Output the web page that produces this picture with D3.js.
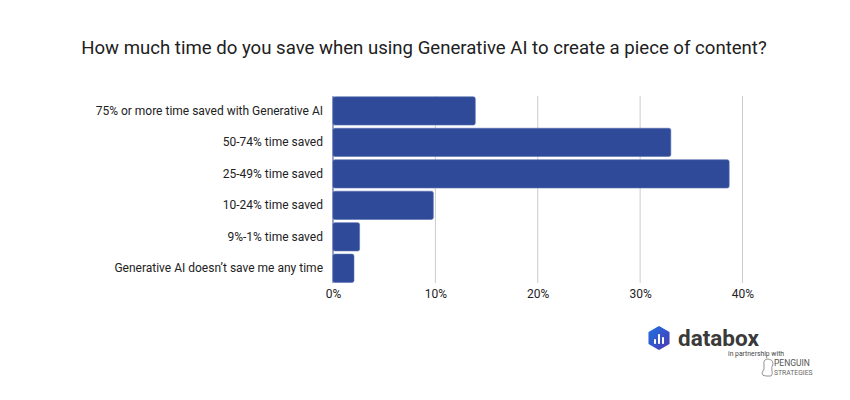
<!DOCTYPE html>
<html>
<head>
<meta charset="utf-8">
<script src="https://cdn.jsdelivr.net/npm/d3@7"></script>
<style>
  html, body { margin: 0; padding: 0; background: #fff; }
  svg { display: block; font-family: Roboto, "Noto Sans", sans-serif; }
</style>
</head>
<body>
<svg id="chart" width="850" height="400"></svg>
<script>
const categories = [
  "75% or more time saved with Generative AI",
  "50-74% time saved",
  "25-49% time saved",
  "10-24% time saved",
  "9%-1% time saved",
  "Generative AI doesn\u2019t save me any time"
];
const values = [13.9, 33.0, 38.7, 9.8, 2.6, 2.05];
const xTicks = [0, 10, 20, 30, 40];
const title = "How much time do you save when using Generative AI to create a piece of content?";

const svg = d3.select("#chart");

const x = d3.scaleLinear().domain([0, 40]).range([333, 742.5]);
const y = d3.scaleBand().domain(categories).range([95.2, 284]).paddingInner(0.1).paddingOuter(0.05);

// title
svg.append("text")
  .attr("x", 424).attr("y", 53.5)
  .attr("text-anchor", "middle")
  .attr("font-size", 18.6)
  .attr("fill", "#212121")
  .text(title);

// gridlines
svg.append("g")
  .selectAll("line")
  .data(xTicks.filter(d => d > 0))
  .join("line")
  .attr("x1", d => x(d)).attr("x2", d => x(d))
  .attr("y1", 96).attr("y2", 283)
  .attr("stroke", "#cccccc").attr("stroke-width", 1);

// bars
svg.append("g")
  .selectAll("rect")
  .data(values)
  .join("rect")
  .attr("x", x(0))
  .attr("y", (d, i) => y(categories[i]))
  .attr("width", d => x(d) - x(0))
  .attr("height", y.bandwidth())
  .attr("rx", 2).attr("ry", 2)
  .attr("fill", "#2e4a98")
  .attr("stroke", "#5b71b3")
  .attr("stroke-width", 0.6);

// y axis line
svg.append("line")
  .attr("x1", x(0)).attr("x2", x(0))
  .attr("y1", 96).attr("y2", 283)
  .attr("stroke", "#2e4a98").attr("stroke-width", 1);

// category labels
const yAxis = d3.axisLeft(y).tickSize(0).tickPadding(10);
const yg = svg.append("g").attr("transform", `translate(${x(0)},0)`).call(yAxis);
yg.select(".domain").remove();
yg.selectAll("text")
  .attr("font-size", 12)
  .attr("fill", "#222")
  .attr("font-family", "Roboto, sans-serif");

// x tick labels
const xAxis = d3.axisBottom(x).tickValues(xTicks).tickSize(0).tickPadding(0).tickFormat(d => d + "%");
const xg = svg.append("g").attr("transform", `translate(0,289)`).call(xAxis);
xg.select(".domain").remove();
xg.selectAll("text")
  .attr("font-size", 12)
  .attr("fill", "#222")
  .attr("dy", "0.71em")
  .attr("font-family", "Roboto, sans-serif");

// databox logo
const defs = svg.append("defs");
const grad = defs.append("linearGradient").attr("id", "lg").attr("x1", "0").attr("y1", "0").attr("x2", "1").attr("y2", "1");
grad.append("stop").attr("offset", "0").attr("stop-color", "#1f6fe0");
grad.append("stop").attr("offset", "1").attr("stop-color", "#4b3bb5");

const cx = 659, cy = 338, r = 11;
const hex = d3.range(6).map(k => {
  const a = Math.PI / 6 + k * Math.PI / 3;
  return [cx + r * Math.cos(a), cy + r * Math.sin(a)];
});
svg.append("path")
  .attr("d", "M" + hex.map(p => p.join(",")).join("L") + "Z")
  .attr("fill", "url(#lg)")
  .attr("stroke", "url(#lg)").attr("stroke-width", 2).attr("stroke-linejoin", "round");
[[654, 339, 5], [658, 334, 10], [662, 337, 7]].forEach(([bx, by, bh]) => {
  svg.append("rect").attr("x", bx).attr("y", by).attr("width", 2).attr("height", bh)
    .attr("fill", "#fff").attr("rx", 0.8);
});
svg.append("text")
  .attr("x", 678).attr("y", 346)
  .attr("font-size", 22.5).attr("font-weight", "bold")
  .attr("fill", "#3a3a3a")
  .attr("font-family", "Roboto, sans-serif")
  .text("databox");
svg.append("text")
  .attr("x", 728).attr("y", 355.5)
  .attr("font-size", 6.8).attr("fill", "#444")
  .text("in partnership with");

// penguin mark
svg.append("path")
  .attr("d", "M767,359 q-4,1 -3,6 q1,4 -2,8 q0,3 4,3 l5,0 q2,-2 1,-5 q-1,-4 1,-7 q0,-5 -6,-5 Z")
  .attr("fill", "none").attr("stroke", "#666").attr("stroke-width", 0.7);
svg.append("text")
  .attr("x", 774).attr("y", 366)
  .attr("font-size", 8.5).attr("fill", "#555")
  .text("PENGUIN");
svg.append("text")
  .attr("x", 774).attr("y", 374.5)
  .attr("font-size", 6.8).attr("fill", "#666")
  .text("STRATEGIES");
</script>
</body>
</html>
